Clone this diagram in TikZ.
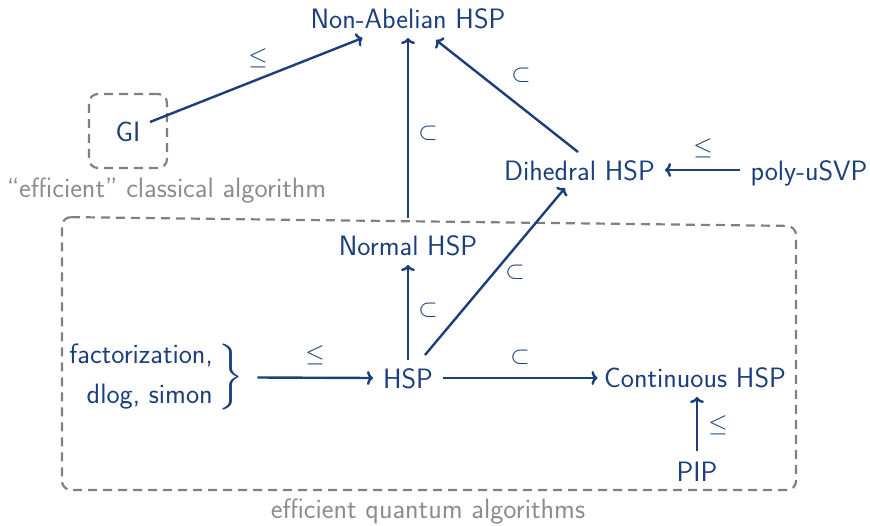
\documentclass[tikz,border=0pt]{standalone}
\usepackage{graphicx}
\usetikzlibrary{calc,arrows.meta}
\definecolor{nblue}{RGB}{28,62,122}
\definecolor{dgray}{RGB}{128,128,128}
\definecolor{lgray}{RGB}{140,140,140}
\tikzset{
  lbl/.style={text=nblue, font=\fontsize{28}{34}\selectfont\sffamily, inner sep=0pt},
  gtxt/.style={text=lgray, font=\fontsize{28}{34}\selectfont\sffamily, inner sep=0pt},
  rel/.style={text=nblue, font=\fontsize{28}{34}\selectfont, inner sep=0pt},
  arr/.style={-{To[length=6pt,width=14pt]}, draw=nblue, line width=2.4pt},
  dbox/.style={draw=dgray, dash pattern=on 9pt off 6pt, line width=2.2pt, rounded corners=9pt}
}
\begin{document}
\begin{tikzpicture}[x=1pt,y=-1pt]
\useasboundingbox (0,0) rectangle (870,525);
% nodes
\node[lbl, anchor=base] (NA) at (408,28) {Non-Abelian HSP};
\node[lbl, anchor=base] (GI) at (128,141) {GI};
\node[dbox, minimum width=78pt, minimum height=74pt, inner sep=0pt] (GIbox) at (128,131) {};
\node[gtxt, anchor=base] (classical) at (166.5,197) {``efficient'' classical algorithm};
\node[lbl, anchor=base] (DH) at (579.5,180) {Dihedral HSP};
\node[lbl, anchor=base] (SVP) at (809,180) {poly-uSVP};
\node[lbl, anchor=base] (NH) at (408,255) {Normal HSP};
\node[lbl, anchor=base] (HSP) at (408,388) {HSP};
\node[lbl, anchor=base] (CH) at (695,387) {Continuous HSP};
\node[lbl, anchor=base] (PIP) at (697,481) {PIP};
\node[lbl, anchor=base east] (fact) at (213,363) {factorization,};
\node[lbl, anchor=base east] (dlog) at (213,403) {dlog, simon};
\node[text=nblue, inner sep=0pt, anchor=west] (brace) at (218,377.5) {\resizebox*{25pt}{66pt}{$\Big\}$}};
\node[gtxt, anchor=base] (quantum) at (428,518) {efficient quantum algorithms};
% quantum box
\draw[dbox] (62,217) -- (796,226) -- (796,490) -- (62,490) -- cycle;
% arrows
\draw[arr] ($(GI.base)+(22,-19)$) -- ($(NA.base)+(-45.5,10)$);
\draw[arr] ($(NH.base)+(0,-37)$) -- ($(NA.base)+(0,10)$);
\draw[arr] ($(DH.base)+(-1.5,-28)$) -- ($(NA.base)+(28,12)$);
\draw[arr] ($(SVP.base)+(-69,-10)$) -- ($(DH.base)+(85.5,-10)$);
\draw[arr] ($(HSP.base)+(0,-28)$) -- ($(NH.base)+(0,10)$);
\draw[arr] ($(HSP.base)+(17,-33)$) -- ($(DH.base)+(-14.5,8)$);
\draw[arr] ($(brace.east)+(14,0)$) -- ($(HSP.base)+(-35,-10)$);
\draw[arr] ($(HSP.base)+(35,-10)$) -- ($(CH.base)+(-97.5,-9)$);
\draw[arr] ($(PIP.base)+(0,-30)$) -- ($(PIP.base |- CH.base)+(0,10)$);
% relation labels
\node[rel] (r1) at (258,58) {$\leq$};
\node[rel] (r2) at (428,133) {$\subset$};
\node[rel] (r3) at (521,75) {$\subset$};
\node[rel] (r4) at (703,148) {$\leq$};
\node[rel] (r5) at (428,310) {$\subset$};
\node[rel] (r6) at (515,272) {$\subset$};
\node[rel] (r7) at (315,355) {$\leq$};
\node[rel] (r8) at (520,357) {$\subset$};
\node[rel] (r9) at (718,425) {$\leq$};
\end{tikzpicture}
\end{document}
